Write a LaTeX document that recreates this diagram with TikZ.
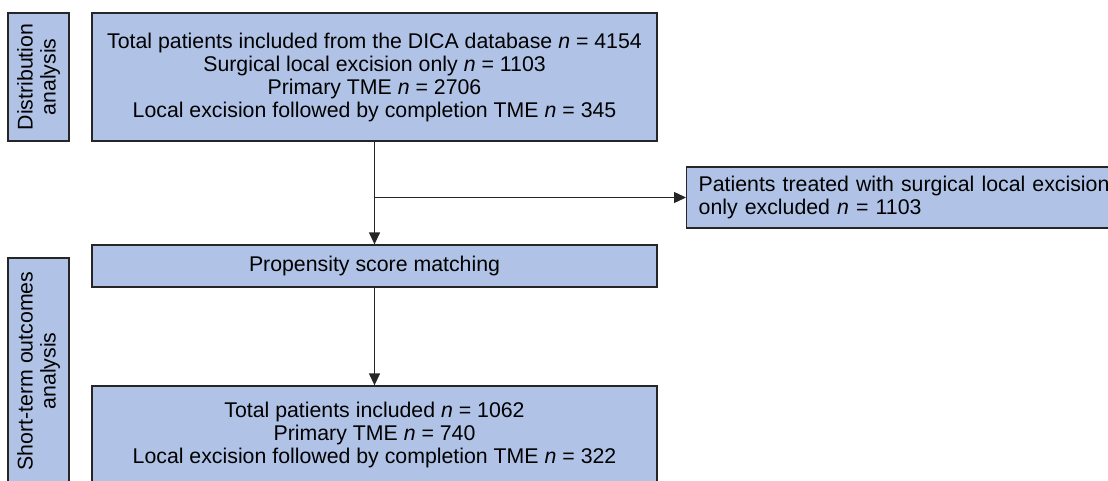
\documentclass[tikz,border=0pt]{standalone}
\usepackage{fontspec}
\setmainfont{Liberation Sans}
\usetikzlibrary{arrows.meta,positioning,calc}
\definecolor{boxfill}{HTML}{B0C3E6}
\definecolor{edge}{HTML}{262626}

\begin{document}
\begin{tikzpicture}[x=1pt,y=-1pt,
  b/.style={draw=edge,fill=boxfill,line width=1.3pt,minimum width=565pt,font=\fontsize{21.3}{23}\selectfont,align=center,inner sep=0pt},
  lab/.style={b,rotate=90,minimum width=128pt,minimum height=61pt},
  a/.style={-{Triangle[length=12pt,width=11pt]},edge,line width=1.3pt}]
\useasboundingbox (0,0) rectangle (1108,481);
\clip (0,0) rectangle (1108,481);
% distribution analysis
\node[lab] (dist) at (38.5,77) {Distribution\\analysis};
\node[b,minimum height=128pt] (total) at (374.5,77) {Total patients included from the DICA database \textit{n} = 4154\\Surgical local excision only \textit{n} = 1103\\Primary TME \textit{n} = 2706\\Local excision followed by completion TME \textit{n} = 345};
\node[b,minimum width=440pt,minimum height=61pt,anchor=west,align=left,inner xsep=12pt,text width=416pt] (excl) at (686,197.5) {Patients treated with surgical local excision\\only excluded \textit{n} = 1103};
% short-term outcomes analysis
\node[b,minimum height=42pt] (psm) at (374.5,266) {Propensity score matching};
\node[lab,minimum width=226pt] (short) at (38.5,371) {Short-term outcomes\\analysis};
\node[b,minimum height=98pt] (matched) at (374.5,435) {Total patients included \textit{n} = 1062\\Primary TME \textit{n} = 740\\Local excision followed by completion TME \textit{n} = 322};
\coordinate (split) at (total.south |- excl.west);
\draw[a] (total.south) -- (psm.north);
\draw[a] (split) -- (excl.west);
\draw[a] (psm) -- (matched);
\end{tikzpicture}
\end{document}
